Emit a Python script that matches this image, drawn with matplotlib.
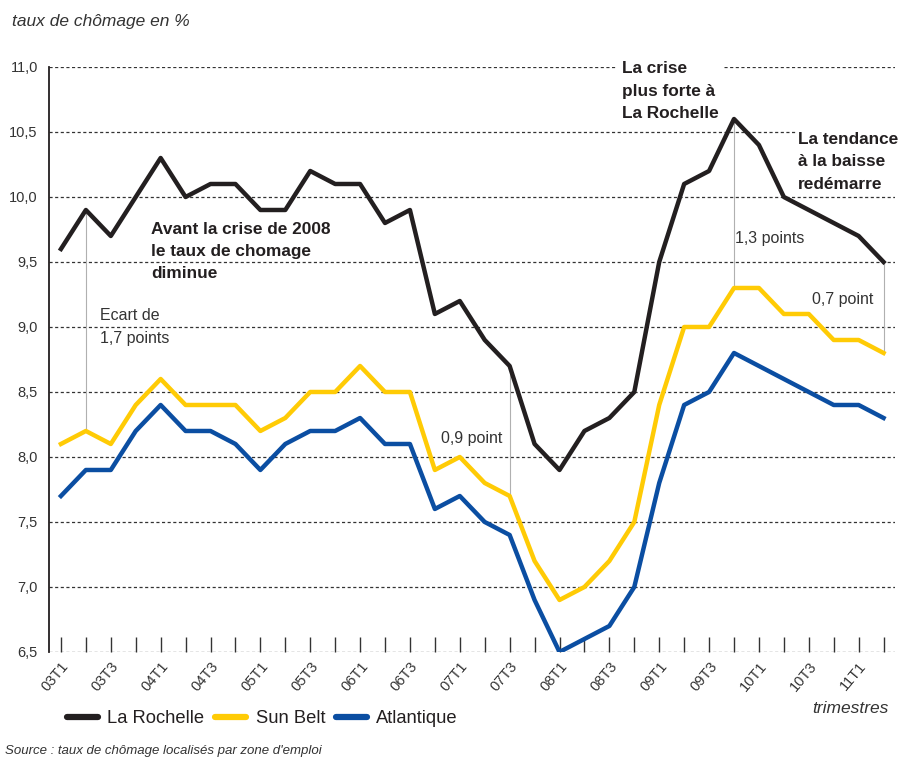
import matplotlib.pyplot as plt
import numpy as np

# trimestres 03T1 -> 11T2
trimestres = []
for a in range(3, 12):
    for q in range(1, 5):
        trimestres.append(f"{a:02d}T{q}")
trimestres = trimestres[:34]

la_rochelle = [9.6, 9.9, 9.7, 10.0, 10.3, 10.0, 10.1, 10.1, 9.9, 9.9, 10.2, 10.1,
               10.1, 9.8, 9.9, 9.1, 9.2, 8.9, 8.7, 8.1, 7.9, 8.2, 8.3, 8.5,
               9.5, 10.1, 10.2, 10.6, 10.4, 10.0, 9.9, 9.8, 9.7, 9.5]
sun_belt = [8.1, 8.2, 8.1, 8.4, 8.6, 8.4, 8.4, 8.4, 8.2, 8.3, 8.5, 8.5,
            8.7, 8.5, 8.5, 7.9, 8.0, 7.8, 7.7, 7.2, 6.9, 7.0, 7.2, 7.5,
            8.4, 9.0, 9.0, 9.3, 9.3, 9.1, 9.1, 8.9, 8.9, 8.8]
atlantique = [7.7, 7.9, 7.9, 8.2, 8.4, 8.2, 8.2, 8.1, 7.9, 8.1, 8.2, 8.2,
              8.3, 8.1, 8.1, 7.6, 7.7, 7.5, 7.4, 6.9, 6.5, 6.6, 6.7, 7.0,
              7.8, 8.4, 8.5, 8.8, 8.7, 8.6, 8.5, 8.4, 8.4, 8.3]

yticks = [6.5, 7.0, 7.5, 8.0, 8.5, 9.0, 9.5, 10.0, 10.5, 11.0]
# écarts signalés : indices des trimestres
ecarts = [1, 18, 27, 33]

noir = '#231f20'
gris = '#333333'
jaune = '#ffcb05'
bleu = '#0b4ea2'

plt.rcParams['font.family'] = ['Liberation Sans', 'DejaVu Sans']

fig = plt.figure(figsize=(9.02, 7.63), dpi=100)
ax = fig.add_axes([0.0543, 0.1455, 0.9377, 0.7667])

x = np.arange(len(trimestres))

# lignes verticales grises des écarts
for i in ecarts:
    ax.plot([i, i], [sun_belt[i], la_rochelle[i]], color='#b0b0b0', lw=0.8, zorder=1)

for v in yticks:
    ax.axhline(v, color=gris, lw=0.9, ls=(0, (2.5, 2)), zorder=0)

ax.plot(x, la_rochelle, color=noir, lw=3.2, label='La Rochelle', zorder=4)
ax.plot(x, sun_belt, color=jaune, lw=3.2, label='Sun Belt', zorder=3)
ax.plot(x, atlantique, color=bleu, lw=3.2, label='Atlantique', zorder=3)

ax.set_xlim(-0.48, 33.45)
ax.set_ylim(6.5, 11.0)
ax.set_yticks(yticks)
ax.set_yticklabels([f"{v:.1f}".replace('.', ',') for v in yticks], fontsize=10.5, color=gris)
ax.tick_params(axis='y', length=0, pad=8)

ax.set_xticks(x)
ax.set_xticklabels([t if i % 2 == 0 else '' for i, t in enumerate(trimestres)],
                   rotation=50, ha='right', va='top', rotation_mode='anchor', fontsize=10.5, color=gris)
ax.tick_params(axis='x', direction='in', length=11, width=1, color=gris, pad=5)

for s in ['top', 'right', 'bottom']:
    ax.spines[s].set_visible(False)
ax.spines['left'].set_linewidth(1.3)
ax.spines['left'].set_color(noir)

# annotations
ax.text(3.61, 9.58, "Avant la crise de 2008\nle taux de chomage\ndiminue", fontsize=12.4,
        fontweight='bold', color=noir, va='center', ha='left', linespacing=1.6)
ax.text(22.49, 10.815, "La crise\nplus forte à\nLa Rochelle", fontsize=12.4, fontweight='bold',
        color=noir, va='center', ha='left', linespacing=1.6,
        bbox=dict(facecolor='white', edgecolor='none', pad=3), zorder=5)
ax.text(29.55, 10.27, "La tendance\nà la baisse\nredémarre", fontsize=12.4, fontweight='bold',
        color=noir, va='center', ha='left', linespacing=1.6,
        bbox=dict(facecolor='white', edgecolor='none', pad=1), zorder=5)

ax.text(1.56, 9.0, "Ecart de\n1,7 points", fontsize=11.5, color=gris, va='center', ha='left',
        linespacing=1.65)
ax.text(17.72, 8.14, "0,9 point", fontsize=11.5, color=gris, va='center', ha='right')
ax.text(27.06, 9.68, "1,3 points", fontsize=11.5, color=gris, va='center', ha='left')
ax.text(32.6, 9.21, "0,7 point", fontsize=11.5, color=gris, va='center', ha='right')

fig.text(0.013, 0.972, "taux de chômage en %", fontsize=12.5, style='italic', color=gris, va='center')
fig.text(0.985, 0.072, "trimestres", fontsize=12.5, style='italic', color=gris, va='center', ha='right')
fig.text(0.006, 0.016, "Source : taux de chômage localisés par zone d'emploi", fontsize=9.5,
         style='italic', color=gris, va='center')

leg = fig.legend(loc='center left', bbox_to_anchor=(0.074, 0.058), ncol=3, frameon=False,
                 fontsize=13.2, handlelength=1.7, columnspacing=0.6, handletextpad=0.5,
                 borderpad=0, borderaxespad=0)
for t in leg.get_texts():
    t.set_color(noir)
for h in leg.legend_handles:
    h.set_linewidth(4.5)
    h.set_solid_capstyle('round')

fig.savefig('out.png', dpi=100)
